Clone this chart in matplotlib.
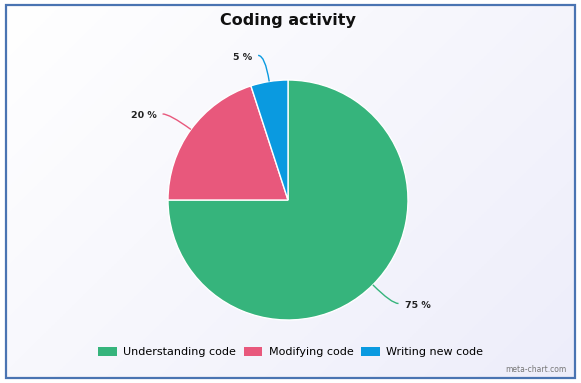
import numpy as np
import matplotlib
matplotlib.use("Agg")
import matplotlib.pyplot as plt
from matplotlib.patches import Rectangle, Patch
from matplotlib.path import Path
from matplotlib.patches import PathPatch

labels = ["Understanding code", "Modifying code", "Writing new code"]
values = [75, 20, 5]
colors = ["#36b47c", "#e8587c", "#0a9ae0"]

W, H = 581, 383
fig = plt.figure(figsize=(W / 100, H / 100), dpi=100)
ax = fig.add_axes([0, 0, 1, 1])
ax.set_xlim(0, W); ax.set_ylim(0, H)
ax.set_aspect("equal"); ax.axis("off")

# fond dégradé + cadre
gx, gy = np.meshgrid(np.linspace(0, 1, 200), np.linspace(0, 1, 200))
g = (gx * 0.6 + gy * 0.4)
c0 = np.array([1.0, 1.0, 1.0]); c1 = np.array([0.93, 0.93, 0.98])
img = c0 + (c1 - c0) * g[..., None]
ax.imshow(img, extent=(6, 575, H - 378, H - 5), origin="upper", zorder=0)
ax.add_patch(Rectangle((6, H - 378), 569, 373, fill=False, ec="#4a74b2", lw=1.6, zorder=5))

cx, cy, r = 288, H - 200, 120
wedges, _ = ax.pie(values, colors=colors, startangle=90, counterclock=False,
                   center=(cx, cy), radius=r, frame=True,
                   wedgeprops=dict(edgecolor="white", linewidth=1))
ax.set_xlim(0, W); ax.set_ylim(0, H); ax.axis("off")

for w, v, c in zip(wedges, values, colors):
    a = np.deg2rad((w.theta1 + w.theta2) / 2)
    d = np.array([np.cos(a), np.sin(a)])
    p0 = np.array([cx, cy]) + r * d
    p1 = np.array([cx, cy]) + 1.22 * r * d
    s = 1 if d[0] >= 0 else -1
    p2 = p1 + np.array([s * 7, 0])
    path = Path([p0, p1, p2], [Path.MOVETO, Path.CURVE3, Path.CURVE3])
    ax.add_patch(PathPatch(path, fc="none", ec=c, lw=1, zorder=3))
    ax.text(p2[0] + s * 6, p2[1] - 2, f"{v} %", ha="left" if s > 0 else "right",
            va="center", fontsize=6.8, fontweight="bold", color="#222222")

ax.text(W / 2 - 3, H - 20, "Coding activity", ha="center", va="center",
        fontsize=11.5, fontweight="bold", color="#111111")

handles = [Patch(fc=c, ec="none") for c in colors]
fig.legend(handles, labels, loc="center", bbox_to_anchor=(0.5, 1 - 352 / H), ncol=3,
           frameon=False, fontsize=8, handlelength=1.7, handleheight=0.9,
           handletextpad=0.55, columnspacing=0.7)
ax.text(566, H - 369, "meta-chart.com", ha="right", va="center", fontsize=5.5, color="#777777")

fig.savefig("out.png", dpi=100)
